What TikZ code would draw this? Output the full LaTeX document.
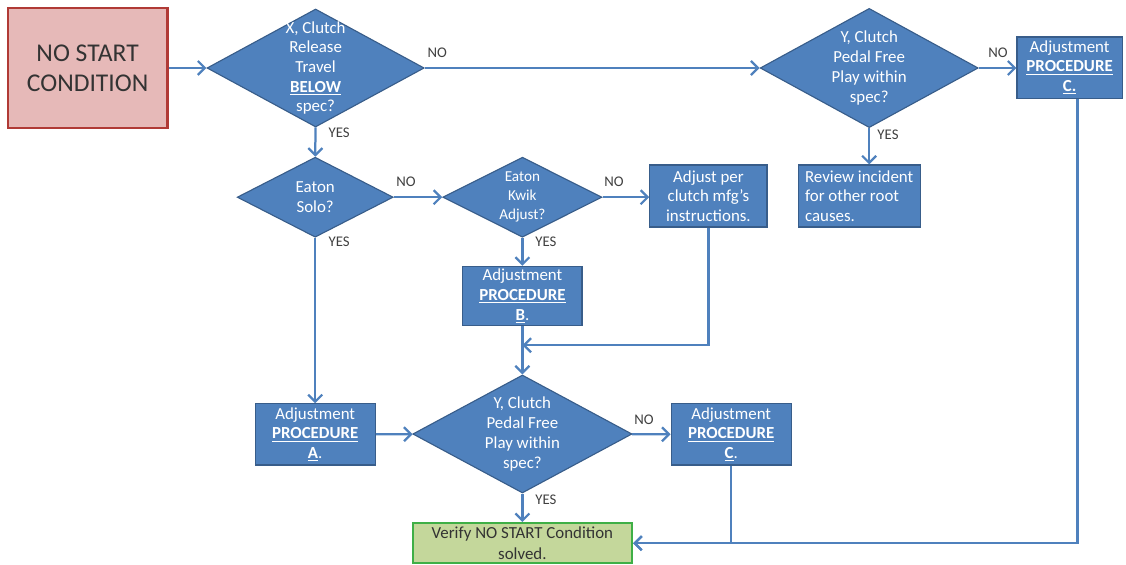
\documentclass[tikz,border=0pt]{standalone}
\usepackage{fontspec}
\setmainfont{Carlito}
\usepackage{tikz}
\usetikzlibrary{
  arrows.meta,
  positioning,
  shapes.geometric
}

\definecolor{flowblue}{HTML}{4F81BD}
\definecolor{flowedge}{HTML}{385D8A}
\definecolor{startfill}{HTML}{E6B9B8}
\definecolor{startedge}{HTML}{B03A36}
\definecolor{okfill}{HTML}{C4D79B}
\definecolor{okedge}{HTML}{3FAF46}
\definecolor{lbltext}{HTML}{404040}

\newcommand{\keyword}[1]{\textbf{\underline{#1}}}

\begin{document}
\begin{tikzpicture}[
    font=\fontsize{12}{14}\selectfont,
    dec/.style={diamond, draw=flowedge, fill=flowblue, line width=0.8pt,
                inner sep=0pt},
    dectxt/.style={text=white, align=center},
    proc/.style={rectangle, draw=flowedge, fill=flowblue, line width=0.8pt,
                 text=white, align=center, inner sep=0pt,
                 minimum width=3.0cm, minimum height=1.53cm},
    flow/.style={draw=flowblue, line width=1.6pt,
                 -{Straight Barb[length=5pt,width=10pt]}},
    lbl/.style={text=lbltext, font=\fontsize{10.5}{12}\selectfont},
  ]

  \useasboundingbox (0,0) rectangle (28.15,-14.125);

  % Start
  \node[draw=startedge, fill=startfill, line width=2pt, text=black!80,
        minimum width=3.98cm, minimum height=3.0cm, align=center,
        font=\fontsize{18.2}{21.3}\selectfont] (start) at (2.19,-1.70)
    {NO START\\CONDITION};

  % Top row
  \node[dec, minimum width=5.43cm, minimum height=2.95cm,
        label={[dectxt]center:{X, Clutch\\Release\\Travel\\\keyword{BELOW}\\spec?}}]
    (relx) at (7.89,-1.70) {};
  \node[dec, minimum width=5.45cm, minimum height=2.98cm,
        label={[dectxt]center:{Y, Clutch\\Pedal Free\\Play within\\spec?}}]
    (freey) at (21.73,-1.70) {};
  \node[proc, minimum width=2.63cm] (procc) at (26.74,-1.69)
    {Adjustment\\\keyword{PROCEDURE}\\\keyword{C.}};
  \node[proc, minimum width=3.05cm, minimum height=1.55cm, align=left]
    (review) at (21.48,-4.90)
    {Review incident\\for other root\\causes.};

  % Middle row
  \node[dec, minimum width=3.9cm, minimum height=2.0cm,
        label={[dectxt]center:{Eaton\\Solo?}}]
    (solo) at (7.88,-4.93) {};
  \node[dec, minimum width=3.98cm, minimum height=2.0cm,
        label={[dectxt, font=\fontsize{10.8}{13.5}\selectfont]center:{Eaton\\Kwik\\Adjust?}}]
    (kwik) at (13.06,-4.93) {};
  \node[proc, minimum width=2.93cm, minimum height=1.55cm] (mfg) at (17.71,-4.90)
    {Adjust per\\clutch mfg's\\instructions.};
  \node[proc, minimum width=2.98cm, minimum height=1.48cm] (procb) at (13.06,-7.40)
    {Adjustment\\\keyword{PROCEDURE}\\\keyword{B}.};
  \coordinate (merge) at (13.06,-8.63);

  % Bottom row
  \node[proc] (proca) at (7.88,-10.86)
    {Adjustment\\\keyword{PROCEDURE}\\\keyword{A}.};
  \node[dec, minimum width=5.48cm, minimum height=2.95cm,
        label={[dectxt]center:{Y, Clutch\\Pedal Free\\Play within\\spec?}}]
    (freey2) at (13.06,-10.85) {};
  \node[proc] (procc2) at (18.28,-10.86)
    {Adjustment\\\keyword{PROCEDURE}\\\keyword{C}.};
  \node[draw=okedge, fill=okfill, line width=1.6pt, text=black!80,
        minimum width=5.48cm, minimum height=1.0cm, inner sep=0pt,
        align=center, font=\fontsize{12}{15.6}\selectfont]
    (verify) at (13.06,-13.58) {Verify NO START Condition\\solved.};

  % Connectors
  \draw[flow] (start) -- (relx);
  \draw[flow] (relx) -- (freey);
  \draw[flow] (freey.east) -- (freey.east -| procc.west);
  \draw[flow] (freey.south) -- (freey.south |- review.north);
  \draw[flow] (relx) -- (solo);
  \draw[flow] (solo) -- (kwik);
  \draw[flow] (kwik.east) -- (kwik.east -| mfg.west);
  \draw[flow] (kwik) -- (procb);
  \draw[flow] (mfg.south) |- (merge);
  \draw[flow] (procb) -- (freey2);
  \draw[flow] (solo) -- (proca);
  \draw[flow] (proca) -- (freey2);
  \draw[flow] (freey2) -- (procc2);
  \draw[flow] (freey2) -- (verify);
  \draw[flow] (procc2.south) |- (verify.east);
  \draw[flow] ([xshift=0.2cm]procc.south) |- (verify.east);

  % Answers
  \node[lbl] (no1)  at (10.93,-1.33) {NO};
  \node[lbl] (yes1) at (8.48,-3.33)  {YES};
  \node[lbl] (no2)  at (24.95,-1.33) {NO};
  \node[lbl] (yes2) at (22.20,-3.38) {YES};
  \node[lbl] (no3)  at (10.15,-4.55) {NO};
  \node[lbl] (yes3) at (8.48,-6.05)  {YES};
  \node[lbl] (no4)  at (15.35,-4.55) {NO};
  \node[lbl] (yes4) at (13.65,-6.05) {YES};
  \node[lbl] (no5)  at (16.10,-10.50) {NO};
  \node[lbl] (yes5) at (13.65,-12.50) {YES};

\end{tikzpicture}
\end{document}
